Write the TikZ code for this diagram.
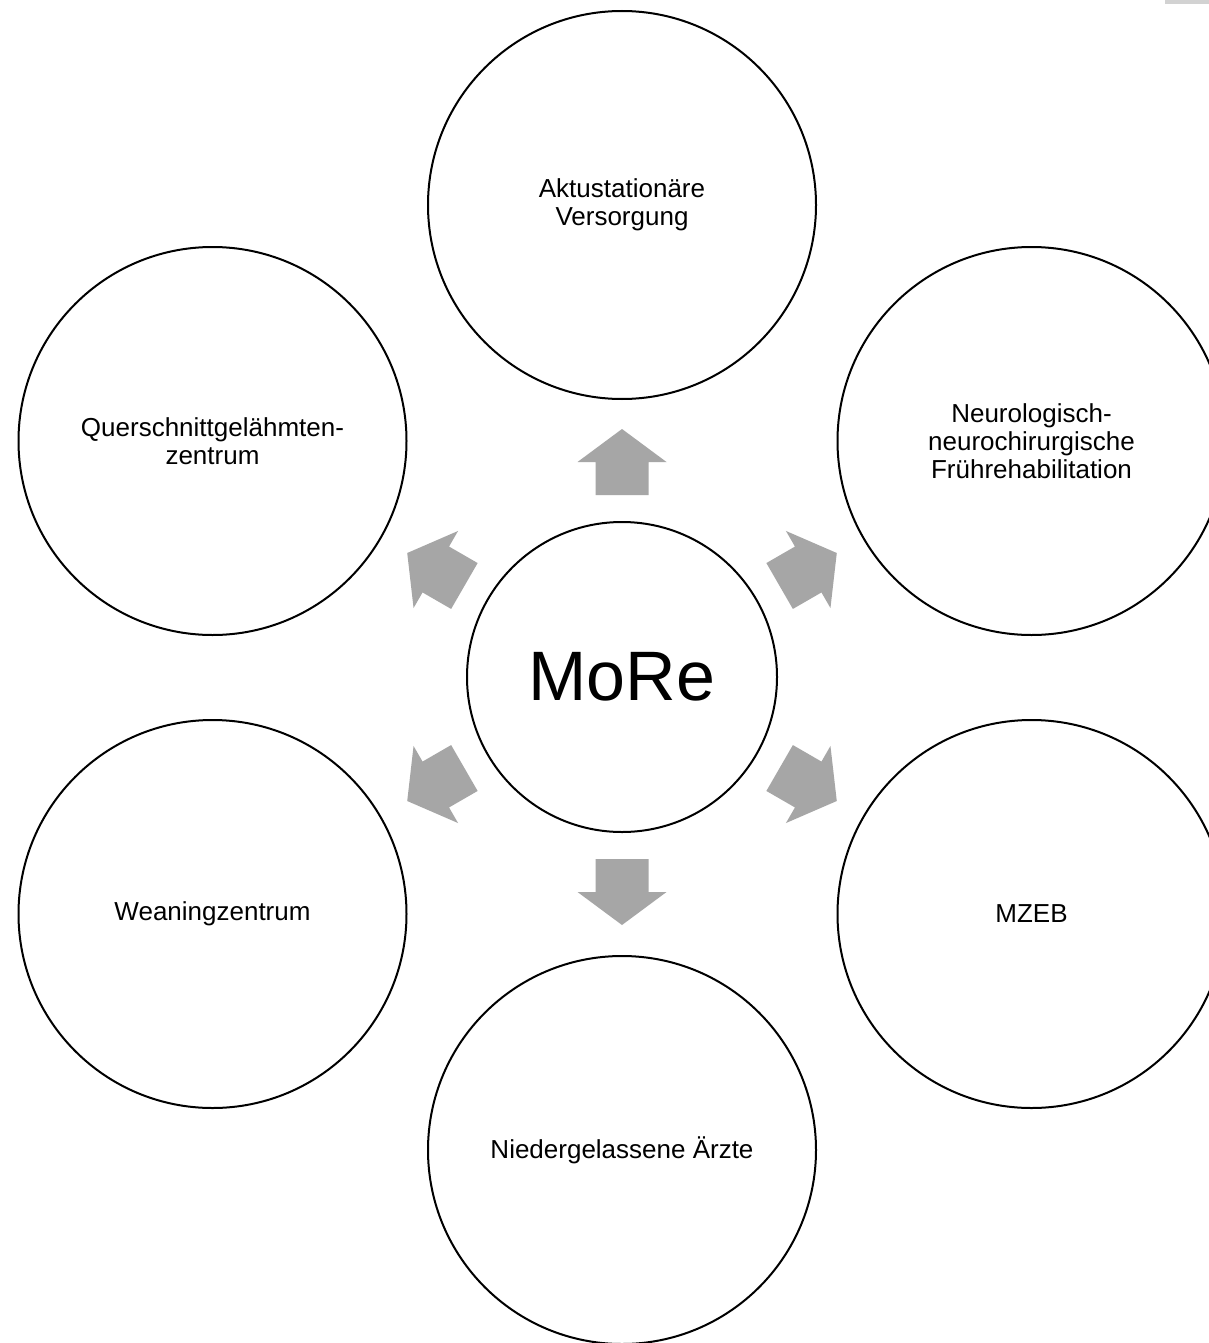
\documentclass[tikz,border=0pt]{standalone}
\usepackage{fontspec}
\setmainfont{Liberation Sans}
\definecolor{arrowgray}{RGB}{166,166,166}
\begin{document}
\begin{tikzpicture}[x=1pt,y=-1pt,
  bigcircle/.style={circle,draw=black,line width=2pt,minimum size=388pt,inner sep=0pt,align=center,
    font=\fontsize{26}{28}\selectfont},
  hubcircle/.style={circle,draw=black,line width=2pt,minimum size=310pt,inner sep=0pt,
    font=\fontsize{70}{72}\selectfont},
  blockarrow/.style={fill=arrowgray,draw=none}]
\useasboundingbox (0,0) rectangle (1209,1343);
\clip (0,0) rectangle (1209,1343);
\fill[white] (0,0) rectangle (1209,1343);
\fill[gray!35] (1165,0) rectangle (1209,4);
\node[hubcircle] (hub) at (622,677) {MoRe};
\node[bigcircle] (top) at (622,205) {Aktustationäre\\Versorgung};
\node[bigcircle] (ur) at (1031.5,441) {Neurologisch-\\neurochirurgische\\Frührehabilitation};
\node[bigcircle] (lr) at (1031.5,914) {MZEB};
\node[bigcircle] (bot) at (622,1150) {Niedergelassene Ärzte};
\node[bigcircle] (ll) at (212.5,914) {Weaningzentrum};
\node[bigcircle] (ul) at (212.5,441) {Querschnittgelähmten-\\zentrum};
\foreach \a in {90,30,150,210,330,270}{
  \begin{scope}[shift={(hub.center)},rotate=\a]
    \fill[blockarrow] (182,-26.5) -- (215,-26.5) -- (215,-44.5) -- (248,0) -- (215,44.5) -- (215,26.5) -- (182,26.5) -- cycle;
  \end{scope}
}
\end{tikzpicture}
\end{document}
